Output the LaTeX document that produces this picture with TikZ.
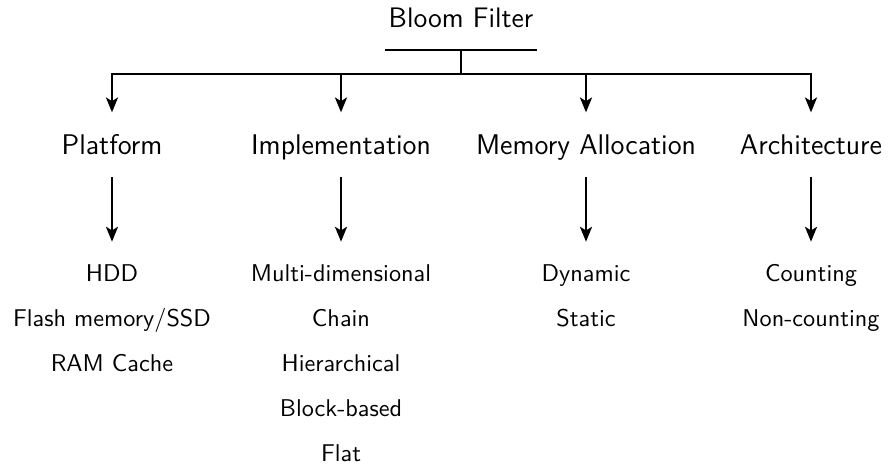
\documentclass[tikz,border=0pt]{standalone}
\usetikzlibrary{arrows.meta}
\begin{document}
\begin{tikzpicture}[x=0.429pt, y=-0.429pt,
  every node/.style={font=\sffamily},
  conn/.style={line width=0.85pt},
  arr/.style={conn, -{Stealth[length=6.4pt,width=5.2pt,inset=1.6pt]}},
  titlebox/.style={font=\sffamily\fontsize{12.1}{14}\selectfont, anchor=base, inner xsep=1.5pt, inner ysep=9.4pt, text depth=0pt},
  catbox/.style={font=\sffamily\fontsize{12.2}{14}\selectfont, anchor=base, inner xsep=0pt, inner ysep=7pt, text height=11.1pt, text depth=2.4pt},
  itembox/.style={font=\sffamily\fontsize{10.4}{12}\selectfont, anchor=base, inner sep=0pt, text height=7.2pt, text depth=0pt},
  down/.style={arr, shorten >=9.9pt}]
\useasboundingbox (0,0) rectangle (888,468);

\node[titlebox] (title) at (461,28) {Bloom Filter};
\draw[conn] (title.south west) -- (title.south east);
\coordinate (hub) at (461,74);
\draw[conn] (title.south) -- (hub);

\node[catbox] (plat) at (112,155) {Platform};
\node[catbox] (impl) at (341,155) {Implementation};
\node[catbox] (mem)  at (586,155) {Memory Allocation};
\node[catbox] (arch) at (811,155) {Architecture};

\draw[arr] (hub) -| (plat.north);
\draw[arr] (hub) -| (impl.north);
\draw[arr] (hub) -| (mem.north);
\draw[arr] (hub) -| (arch.north);

\node[itembox] (p1) at (112,282) {HDD};
\node[itembox] (p2) at (112,326.7) {Flash memory/SSD};
\node[itembox] (p3) at (112,371.5) {RAM Cache};

\node[itembox] (i1) at (341,282) {Multi-dimensional};
\node[itembox] (i2) at (341,326.7) {Chain};
\node[itembox] (i3) at (341,371.5) {Hierarchical};
\node[itembox] (i4) at (341,416.3) {Block-based};
\node[itembox] (i5) at (341,461) {Flat};

\node[itembox] (m1) at (586,282) {Dynamic};
\node[itembox] (m2) at (586,326.7) {Static};

\node[itembox] (a1) at (811,282) {Counting};
\node[itembox] (a2) at (811,326.7) {Non-counting};

\draw[down] (plat.south) -- (p1.north);
\draw[down] (impl.south) -- (i1.north);
\draw[down] (mem.south) -- (m1.north);
\draw[down] (arch.south) -- (a1.north);
\end{tikzpicture}
\end{document}
